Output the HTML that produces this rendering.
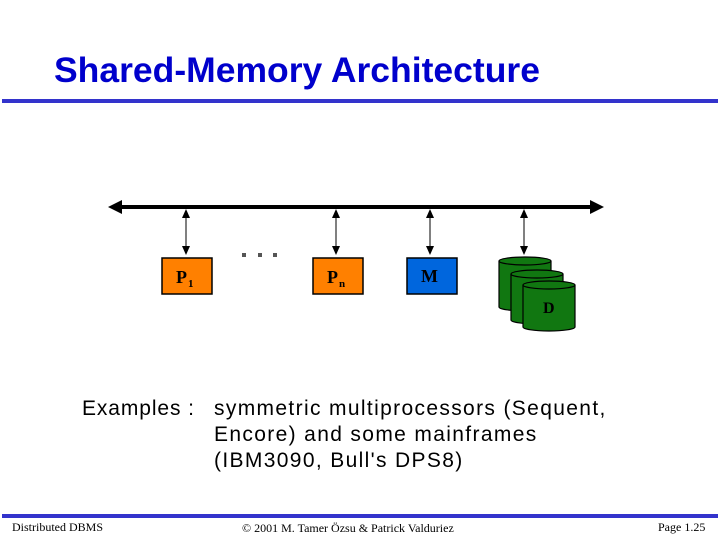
<!DOCTYPE html>
<html><head><style>
body{margin:0;width:720px;height:540px;background:#fff;position:relative;overflow:hidden;font-family:"Liberation Sans",sans-serif}
.t{position:absolute;white-space:nowrap}
.e{font-size:21px;letter-spacing:1.35px;line-height:26px}
</style></head><body>
<div class="t" style="left:54px;top:50px;font-size:35.5px;font-weight:bold;color:#0000cc">Shared-Memory Architecture</div>
<div style="position:absolute;left:2px;top:99px;width:716px;height:4px;background:#3333cc"></div>
<svg width="720" height="540" style="position:absolute;left:0;top:0">
<defs><marker id="a" markerWidth="10" markerHeight="10" refX="8" refY="4" orient="auto-start-reverse" markerUnits="userSpaceOnUse"><path d="M0,0L9,4L0,8z" fill="#000"/></marker></defs>
<line x1="118" y1="207" x2="594" y2="207" stroke="#000" stroke-width="4"/>
<path d="M108,207L122,200L122,214z" fill="#000"/><path d="M604,207L590,200L590,214z" fill="#000"/>
<g stroke="#000" stroke-width="1" marker-start="url(#a)" marker-end="url(#a)">
<line x1="186" y1="210" x2="186" y2="254"/><line x1="336" y1="210" x2="336" y2="254"/>
<line x1="430" y1="210" x2="430" y2="254"/><line x1="524" y1="210" x2="524" y2="254"/>
</g>
<rect x="162" y="258" width="50" height="36" fill="#ff8000" stroke="#000" stroke-width="1.5"/>
<rect x="313" y="258" width="50" height="36" fill="#ff8000" stroke="#000" stroke-width="1.5"/>
<rect x="407" y="258" width="50" height="36" fill="#0066dd" stroke="#000" stroke-width="1.5"/>
<g fill="#555"><rect x="242" y="253" width="4" height="4"/><rect x="258" y="253" width="4" height="4"/><rect x="273" y="253" width="4" height="4"/></g>
<g fill="#117711" stroke="#000" stroke-width="1.2">
<path d="M499,261V307A26,4 0 0 0 551,307V261"/><ellipse cx="525" cy="261" rx="26" ry="4"/>
<path d="M511,274V320A26,4 0 0 0 563,320V274"/><ellipse cx="537" cy="274" rx="26" ry="4"/>
<path d="M523,285V327A26,4 0 0 0 575,327V285"/><ellipse cx="549" cy="285" rx="26" ry="4"/>
</g>
<g font-family="Liberation Serif,serif" font-weight="bold" fill="#000">
<text x="176" y="283" font-size="18">P</text><text x="188" y="287" font-size="11">1</text>
<text x="327" y="283" font-size="18">P</text><text x="339" y="287" font-size="11">n</text>
<text x="421" y="282" font-size="18">M</text>
<text x="543" y="313" font-size="16">D</text>
</g>
</svg>
<div class="t e" style="left:82px;top:396px;letter-spacing:0.9px">Examples :</div>
<div class="t e" style="left:214px;top:396px">symmetric multiprocessors (Sequent,<br>Encore) and some mainframes<br>(IBM3090, Bull's DPS8)</div>
<div style="position:absolute;left:2px;top:514px;width:716px;height:4px;background:#3333cc"></div>
<div class="t" style="left:12px;top:520px;font-size:12px;font-family:'Liberation Serif',serif">Distributed DBMS</div>
<div class="t" style="left:242px;top:521px;font-size:12px;font-family:'Liberation Serif',serif">© 2001 M. Tamer Özsu &amp; Patrick Valduriez</div>
<div class="t" style="left:658px;top:520px;font-size:12px;font-family:'Liberation Serif',serif">Page 1.25</div>
</body></html>
